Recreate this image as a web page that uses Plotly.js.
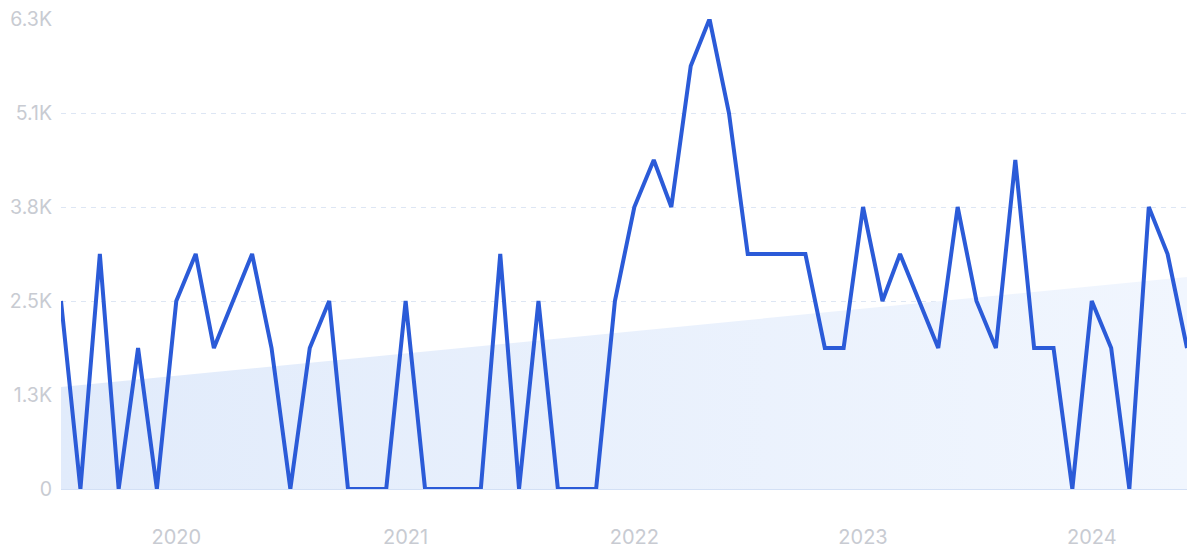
<!DOCTYPE html>
<html>
<head>
<meta charset="utf-8">
<script src="https://cdn.plot.ly/plotly-3.0.1.min.js"></script>
<style>html,body{margin:0;padding:0;background:#fff;}#chart{width:1200px;height:554px;}</style>
</head>
<body>
<div id="chart"></div>
<script>
const months = [
 '2019-07-01','2019-08-01','2019-09-01','2019-10-01','2019-11-01','2019-12-01',
 '2020-01-01','2020-02-01','2020-03-01','2020-04-01','2020-05-01','2020-06-01',
 '2020-07-01','2020-08-01','2020-09-01','2020-10-01','2020-11-01','2020-12-01',
 '2021-01-01','2021-02-01','2021-03-01','2021-04-01','2021-05-01','2021-06-01',
 '2021-07-01','2021-08-01','2021-09-01','2021-10-01','2021-11-01','2021-12-01',
 '2022-01-01','2022-02-01','2022-03-01','2022-04-01','2022-05-01','2022-06-01',
 '2022-07-01','2022-08-01','2022-09-01','2022-10-01','2022-11-01','2022-12-01',
 '2023-01-01','2023-02-01','2023-03-01','2023-04-01','2023-05-01','2023-06-01',
 '2023-07-01','2023-08-01','2023-09-01','2023-10-01','2023-11-01','2023-12-01',
 '2024-01-01','2024-02-01','2024-03-01','2024-04-01','2024-05-01','2024-06-01'
];
const volume = [
 2528,0,3160,0,1896,0,
 2528,3160,1896,2528,3160,1896,
 0,1896,2528,0,0,0,
 2528,0,0,0,0,3160,
 0,2528,0,0,0,2528,
 3792,4424,3792,5688,6320,5056,
 3160,3160,3160,3160,1896,1896,
 3792,2528,3160,2528,1896,3792,
 2528,1896,4424,1896,1896,0,
 2528,1896,0,3792,3160,1896
];
const trendDates = ['2019-07-01','2024-06-01'];
const trendValues = [1370, 2850];
const yTickVals = [0,1264,2528,3792,5056,6320];
const yTickText = ['0','1.3K','2.5K','3.8K','5.1K','6.3K'];
const xTickVals = ['2020-01-01','2021-01-01','2022-01-01','2023-01-01','2024-01-01'];
const xTickText = ['2020','2021','2022','2023','2024'];

const traces = [
 {
  x: trendDates, y: trendValues, type:'scatter', mode:'lines',
  line:{width:0, color:'rgba(0,0,0,0)'},
  fill:'tozeroy',
  fillcolor:'#e6effc',
  fillgradient:{type:'horizontal', colorscale:[[0,'#e1ebfb'],[1,'#f1f6fe']]},
  hoverinfo:'skip', showlegend:false
 },
 {
  x: months, y: volume, type:'scatter', mode:'lines',
  line:{color:'#2b5bd8', width:4, shape:'linear'},
  cliponaxis:false, showlegend:false
 }
];

const layout = {
 width:1200, height:554,
 margin:{l:61, r:13, t:19, b:65},
 paper_bgcolor:'#ffffff', plot_bgcolor:'#ffffff',
 font:{family:'Inter, "Noto Sans", sans-serif', color:'#c8cbd2'},
 showlegend:false,
 xaxis:{
  type:'date', range:['2019-07-01','2024-06-01'],
  tickvals:xTickVals, ticktext:xTickText,
  showgrid:false, zeroline:false, showline:false, ticks:'',
  tickfont:{size:20, color:'#c8cbd2'},
  ticklabelstandoff:34
 },
 yaxis:{
  range:[0,6320], tickvals:yTickVals, ticktext:yTickText,
  showgrid:true, gridcolor:'#dde6f4', griddash:'5px,5px', gridwidth:1,
  zeroline:true, zerolinecolor:'#d3e0f5', zerolinewidth:1.5,
  showline:false, ticks:'',
  tickfont:{size:19.5, color:'#c8cbd2'},
  ticklabelstandoff:8
 }
};

Plotly.newPlot('chart', traces, layout, {displayModeBar:false, staticPlot:true});
</script>
</body>
</html>
